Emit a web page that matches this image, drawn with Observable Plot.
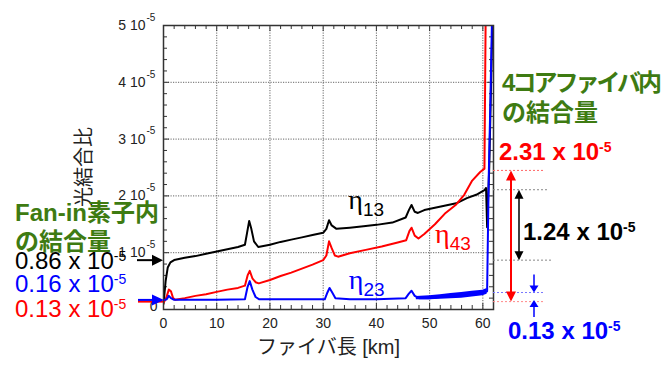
<!DOCTYPE html>
<html><head><meta charset="utf-8">
<script src="https://cdn.jsdelivr.net/npm/d3@7"></script>
<script src="https://cdn.jsdelivr.net/npm/@observablehq/plot@0.6"></script>
<style>
html,body{margin:0;padding:0;background:#fff;}
#chart{width:666px;height:365px;overflow:hidden;}
</style></head><body><div id="chart"></div>
<script>
// ---------- data ----------
const xTicks = [0, 10, 20, 30, 40, 50, 60];
const yTicks = [0, 1, 2, 3, 4, 5];            // units of 1e-5
const yTickMain = ["0", "1 10", "2 10", "3 10", "4 10", "5 10"];
const yTickExp = "-5";
const xLabel = "ファイバ長 [km]";
const yLabel = "光結合比";

// η13 (black)
const km13  = [0, 0.4, 0.8, 1.3, 2, 4, 6, 8, 10, 12, 14, 15.3, 15.7, 16.1, 16.5, 17, 17.8, 20, 22, 24, 26, 28, 30, 30.6, 31.1, 31.6, 32.5, 35, 38, 40, 43, 45.5, 46.1, 46.6, 47.2, 47.8, 49, 51, 53, 55, 57, 59, 60.3, 60.6, 60.8, 61.2, 61.9];
const eta13 = [0.10, 0.50, 0.74, 0.83, 0.87, 0.91, 0.94, 0.98, 1.02, 1.06, 1.10, 1.14, 1.35, 1.56, 1.42, 1.20, 1.10, 1.14, 1.19, 1.23, 1.27, 1.31, 1.35, 1.42, 1.57, 1.48, 1.42, 1.44, 1.47, 1.49, 1.53, 1.62, 1.75, 1.84, 1.72, 1.70, 1.75, 1.79, 1.83, 1.87, 1.96, 2.03, 2.10, 2.14, 1.45, 2.5, 5.5];
// η43 (red)
const km43  = [0, 0.5, 1.0, 1.4, 1.8, 2.2, 4, 6, 8, 10, 12, 14, 15.3, 15.8, 16.2, 16.7, 17.3, 17.9, 20, 22, 24, 26, 28, 30, 30.6, 31.1, 31.6, 32.2, 32.8, 35, 38, 41, 44, 45.6, 46.2, 46.6, 47.2, 47.9, 49, 51, 53, 55, 56.5, 58, 59.5, 60.3, 60.6];
const eta43 = [0.12, 0.20, 0.35, 0.32, 0.20, 0.17, 0.20, 0.24, 0.27, 0.31, 0.35, 0.38, 0.42, 0.60, 0.68, 0.55, 0.48, 0.46, 0.52, 0.59, 0.65, 0.72, 0.79, 0.87, 0.95, 1.20, 1.08, 0.95, 0.93, 0.99, 1.05, 1.11, 1.18, 1.22, 1.38, 1.44, 1.30, 1.25, 1.33, 1.50, 1.70, 1.85, 2.02, 2.27, 2.42, 2.48, 6.0];
// η23 (blue)
const km23  = [0, 0.6, 1.0, 1.4, 2, 5, 10, 15.3, 15.8, 16.2, 16.7, 17.3, 18, 22, 26, 30.3, 30.8, 31.2, 31.7, 32.3, 35, 40, 45.5, 46.1, 46.6, 47.2, 48, 50, 52, 54, 56, 58, 60, 60.8, 61.1, 61.4, 61.8];
const eta23 = [0.16, 0.18, 0.24, 0.20, 0.17, 0.17, 0.17, 0.18, 0.40, 0.50, 0.35, 0.22, 0.18, 0.18, 0.18, 0.18, 0.30, 0.38, 0.30, 0.20, 0.18, 0.18, 0.20, 0.28, 0.33, 0.24, 0.20, 0.20, 0.22, 0.23, 0.25, 0.27, 0.29, 0.32, 2.3, 3.6, 5.5];
const noiseKm = [47.5, 50, 52, 54, 56, 58, 60, 60.8];
const noiseLo = [0.17, 0.17, 0.18, 0.19, 0.20, 0.22, 0.24, 0.27];
const noiseHi = [0.23, 0.24, 0.26, 0.28, 0.30, 0.32, 0.34, 0.37];

// coupling annotations (units of 1e-5): [η13, η23, η43]
const fanInValue    = [0.86, 0.16, 0.13];
const fiberIncrease = [1.24, 0.13, 2.31];
const seriesColor   = ["#000000", "#0000ff", "#ff0000"];
const etaSub        = ["13", "23", "43"];
const etaLabelKm    = [34.8, 34.9, 51.1];
const etaLabelVal   = [1.76, 0.35, 1.17];

// ---------- chart ----------
const SANS = '"Liberation Sans", Arial, "Noto Sans CJK JP", sans-serif';
const SERIF = '"Liberation Serif", "DejaVu Serif", serif';
const GREEN = "#3e7b12";
const W = 666, H = 365, ML = 163, MR = 173, MT = 25, MB = 56;
const FW = W - ML - MR, FH = H - MT - MB;

const xMinor = d3.range(2, 62, 2).filter(d => d % 10 !== 0);
const yMinor = d3.range(1, 25).filter(i => i % 5 !== 0).map(i => i / 5);

const rows = (ks, vs) => ks.map((k, i) => ({km: k, v: vs[i]}));
const noiseRows = noiseKm.map((k, i) => ({km: k, lo: noiseLo[i], hi: noiseHi[i]}));

const plot = Plot.plot({
  width: W, height: H,
  marginLeft: ML, marginRight: MR, marginTop: MT, marginBottom: MB,
  style: {fontFamily: SANS, fontSize: "14px", color: "#222", background: "#fff"},
  x: {domain: [0, 62]},
  y: {domain: [0, 5], axis: null},
  marks: [
    Plot.gridX(xTicks.filter(d => d > 0), {stroke: "#666", strokeOpacity: 1, strokeDasharray: "1.2,1.3"}),
    Plot.gridY(yTicks.filter(d => d > 0 && d < 5), {stroke: "#666", strokeOpacity: 1, strokeDasharray: "1.2,1.3"}),
    // inside ticks on all four sides
    Plot.ruleX(xMinor, {insetTop: FH - 4, stroke: "#333"}),
    Plot.ruleX(xMinor, {insetBottom: FH - 4, stroke: "#333"}),
    Plot.ruleX(xTicks, {insetTop: FH - 6, stroke: "#333"}),
    Plot.ruleX(xTicks, {insetBottom: FH - 6, stroke: "#333"}),
    Plot.ruleY(yMinor, {insetRight: FW - 4, stroke: "#333"}),
    Plot.ruleY(yMinor, {insetLeft: FW - 4, stroke: "#333"}),
    Plot.ruleY(yTicks, {insetRight: FW - 6, stroke: "#333"}),
    Plot.ruleY(yTicks, {insetLeft: FW - 6, stroke: "#333"}),
    // data
    Plot.line(rows(km13, eta13), {x: "km", y: "v", stroke: "#000", strokeWidth: 2, clip: true}),
    Plot.line(rows(km43, eta43), {x: "km", y: "v", stroke: "#ff0000", strokeWidth: 2, clip: true}),
    Plot.areaY(noiseRows, {x: "km", y1: "lo", y2: "hi", fill: "#0000ff", clip: true}),
    Plot.line(rows(km23, eta23), {x: "km", y: "v", stroke: "#0000ff", strokeWidth: 2, clip: true}),
    Plot.frame({stroke: "#333", strokeWidth: 1.5}),
    // axes
    Plot.axisX(xTicks, {tickSize: 0, tickPadding: 9, fontSize: 14, label: null, fill: "#222"}),
    Plot.text(yTicks.filter(d => d > 0), {y: d => d, frameAnchor: "left", text: d => yTickMain[yTicks.indexOf(d)], textAnchor: "end", dx: -18, fontSize: 14, fill: "#222"}),
    Plot.text(yTicks.filter(d => d > 0), {y: d => d, frameAnchor: "left", text: () => yTickExp, textAnchor: "start", dx: -17, dy: -8, fontSize: 10, fill: "#222"}),
    Plot.text([0], {y: d => d, frameAnchor: "left", text: d => yTickMain[0], textAnchor: "end", dx: -6, dy: -3, fontSize: 14, fill: "#222"}),
    Plot.text([xLabel], {frameAnchor: "bottom", text: d => d, dy: 44, fontSize: 20, fill: "#222"})
  ]
});
document.getElementById("chart").appendChild(plot);

// ---------- annotations ----------
const xs = plot.scale("x"), ys = plot.scale("y");
const X = v => xs.apply(v), Y = v => ys.apply(v);
const svg = d3.select(plot);
const g = svg.append("g").attr("class", "annotations");

// y-axis title, rotated to read bottom-to-top
g.append("text")
  .attr("transform", `translate(${ML - 79},${(Y(0) + Y(5)) / 2}) rotate(-90)`)
  .attr("text-anchor", "middle").attr("dominant-baseline", "central")
  .attr("font-family", SANS).attr("font-size", 20).attr("fill", "#222")
  .text(yLabel);

function rich(x, y, parts, {size, fill, weight = "normal", family = SANS, anchor = "start", len = null}) {
  const t = g.append("text").attr("x", x).attr("y", y).attr("fill", fill)
    .attr("font-size", size).attr("font-weight", weight).attr("font-family", family)
    .attr("text-anchor", anchor);
  if (len) t.attr("textLength", len).attr("lengthAdjust", "spacing");
  let shift = 0;
  for (const p of parts) {
    const ts = t.append("tspan").text(p.t);
    if (p.size) ts.attr("font-size", p.size);
    if (p.family) ts.attr("font-family", p.family);
    const target = p.rise || 0;
    if (target !== shift) { ts.attr("dy", shift - target); shift = target; }
  }
  return t;
}
const valueParts = v => [{t: `${v.toFixed(2)} x 10`}, {t: yTickExp, size: 14, rise: 8}];

function arrowHead(x, y, dir, len, half, color) { // dir: "right","up","down"
  let pts;
  if (dir === "right") pts = [[x, y], [x - len, y - half], [x - len, y + half]];
  else if (dir === "up") pts = [[x, y], [x - half, y + len], [x + half, y + len]];
  else pts = [[x, y], [x - half, y - len], [x + half, y - len]];
  g.append("polygon").attr("points", pts.map(p => p.join(",")).join(" ")).attr("fill", color);
}
function seg(x1, y1, x2, y2, color, w, dash) {
  const l = g.append("line").attr("x1", x1).attr("y1", y1).attr("x2", x2).attr("y2", y2)
    .attr("stroke", color).attr("stroke-width", w);
  if (dash) l.attr("stroke-dasharray", dash);
}

const left = X(0), right = X(62);

// left: Fan-in
rich(15, 221, [{t: "Fan-in素子内"}], {size: 24, fill: GREEN, weight: "bold"});
rich(15, 250, [{t: "の結合量"}], {size: 24, fill: GREEN, weight: "bold"});
const leftBase = [269, 292, 317];
fanInValue.forEach((v, i) => rich(15, leftBase[i], valueParts(v), {size: 24, fill: seriesColor[i]}));
// left arrows
seg(138, Y(fanInValue[2]), left, Y(fanInValue[2]), "#ff0000", 2);
seg(137, Y(fanInValue[0]), left - 10, Y(fanInValue[0]), "#000", 2);
arrowHead(left, Y(fanInValue[0]), "right", 11, 5.5, "#000");
seg(138, Y(fanInValue[1]), left - 10, Y(fanInValue[1]), "#0000ff", 2);
arrowHead(left + 1, Y(fanInValue[1]), "right", 12, 5.5, "#0000ff");

// right: 4-core fiber
rich(502, 91, [{t: "4コアファイバ内"}], {size: 24, fill: GREEN, weight: "bold", len: 160});
rich(502, 121, [{t: "の結合量"}], {size: 24, fill: GREEN, weight: "bold"});

const end = fanInValue.map((v, i) => +(v + fiberIncrease[i]).toFixed(2));
// dotted guide lines
seg(right, Y(end[2]), right + 52, Y(end[2]), "#ff6666", 1, "2,2");
seg(right, Y(fanInValue[2]), right + 52, Y(fanInValue[2]), "#ff8888", 1, "2,2");
seg(right, Y(end[0]), right + 55, Y(end[0]), "#888", 1, "2,2");
seg(right, Y(fanInValue[0]), right + 59, Y(fanInValue[0]), "#888", 1, "2,2");
seg(right, Y(end[1]), right + 52, Y(end[1]), "#7777ff", 1, "2,2");

// red double arrow
const rx = right + 18;
seg(rx, Y(end[2]) + 9, rx, Y(fanInValue[2]) - 9, "#ff0000", 2);
arrowHead(rx, Y(end[2]), "up", 10, 5, "#ff0000");
arrowHead(rx, Y(fanInValue[2]), "down", 10, 5, "#ff0000");
// black double arrow
const bx = right + 26;
seg(bx, Y(end[0]) + 8, bx, Y(fanInValue[0]) - 8, "#000", 1.5);
arrowHead(bx, Y(end[0]), "up", 9, 4.5, "#000");
arrowHead(bx, Y(fanInValue[0]), "down", 9, 4.5, "#000");
// blue converging arrows
const ux = right + 41;
seg(ux, Y(end[1]) - 18, ux, Y(end[1]) - 6, "#0000ff", 1.5);
arrowHead(ux, Y(end[1]), "down", 7, 4.5, "#0000ff");
seg(ux, Y(fanInValue[1]) + 17, ux, Y(fanInValue[1]) + 6, "#0000ff", 1.5);
arrowHead(ux, Y(fanInValue[1]), "up", 7, 4.5, "#0000ff");

rich(499, 160, valueParts(fiberIncrease[2]), {size: 24, fill: "#ff0000", weight: "bold"});
rich(523, 240, valueParts(fiberIncrease[0]), {size: 24, fill: "#000", weight: "bold"});
rich(508, 339, valueParts(fiberIncrease[1]), {size: 24, fill: "#0000ff", weight: "bold"});

// η labels
const etaColors = ["#000", "#0000ff", "#ff0000"];
[0, 1, 2].forEach(i => {
  rich(X(etaLabelKm[i]), Y(etaLabelVal[i]), [{t: "η", family: SERIF}, {t: etaSub[i], size: 19, rise: -7}],
       {size: 28, fill: etaColors[i]});
});
</script></body></html>
